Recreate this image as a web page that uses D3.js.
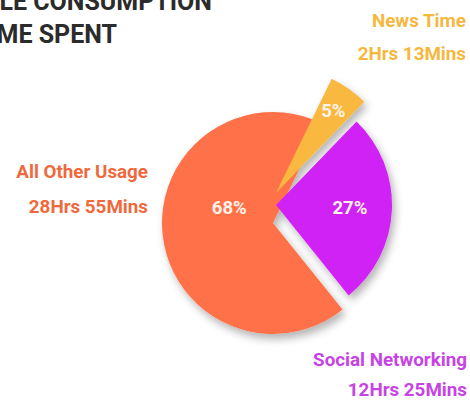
<!DOCTYPE html>
<html>
<head>
<meta charset="utf-8">
<script src="https://cdn.jsdelivr.net/npm/d3@7/dist/d3.min.js"></script>
<style>
  html, body { margin: 0; padding: 0; background: #fff; }
  svg { display: block; font-family: Roboto, "Noto Sans", sans-serif; }
</style>
</head>
<body>
<svg id="chart" width="470" height="401"></svg>
<script>
// Share of mobile time, by activity
const categories = ["News Time", "Social Networking", "All Other Usage"];
const shares = [5, 27, 68];
const durations = ["2Hrs 13Mins", "12Hrs 25Mins", "28Hrs 55Mins"];
const titleLines = ["MOBILE CONSUMPTION", "TIME SPENT"];

// Look of each slice: colour, pull-out offset, radius and label tweaks
const sliceStyle = {
  "News Time":         { fill: "#F9B83F", text: "#F5B73E", dx: 3,  dy: -30, r: 127, labelR: 100, labelDy: 0 },
  "Social Networking": { fill: "#D022F4", text: "#C743E6", dx: 3,  dy: -18, r: 116, labelR: 74,  labelDy: 0 },
  "All Other Usage":   { fill: "#FF7249", text: "#F0693D", dx: 0,  dy: 0,   r: 111, labelR: 44,  labelDy: -20 }
};

const svg = d3.select("#chart");
const cx = 273, cy = 223;
const deg = Math.PI / 180;

// Soft drop shadow under the slices
const defs = svg.append("defs");
const f = defs.append("filter").attr("id", "shadow")
  .attr("x", "-30%").attr("y", "-30%").attr("width", "160%").attr("height", "160%");
f.append("feGaussianBlur").attr("in", "SourceAlpha").attr("stdDeviation", 4).attr("result", "b");
f.append("feOffset").attr("in", "b").attr("dx", 3).attr("dy", 5).attr("result", "o");
f.append("feComponentTransfer").attr("in", "o").attr("result", "s")
  .append("feFuncA").attr("type", "linear").attr("slope", 0.3);
const m = f.append("feMerge");
m.append("feMergeNode").attr("in", "s");
m.append("feMergeNode").attr("in", "SourceGraphic");

// Title (runs off the left edge)
svg.append("text")
  .attr("x", 212).attr("y", 10)
  .attr("text-anchor", "end")
  .attr("font-size", 25).attr("font-weight", 700).attr("fill", "#2b2b2b")
  .text(titleLines[0]);
svg.append("text")
  .attr("x", 117).attr("y", 43)
  .attr("text-anchor", "end")
  .attr("font-size", 25).attr("font-weight", 700).attr("fill", "#2b2b2b")
  .text(titleLines[1]);

const data = categories.map((c, i) => ({ category: c, value: shares[i], duration: durations[i] }));

const pie = d3.pie()
  .sort(null)
  .value(d => d.value)
  .startAngle(26 * deg)
  .endAngle(386 * deg);

const arcs = pie(data);

// Orange slice goes underneath, then the pulled-out ones
const drawOrder = ["All Other Usage", "News Time", "Social Networking"];
const ordered = drawOrder.map(c => arcs.find(a => a.data.category === c));

const slices = svg.append("g").attr("filter", "url(#shadow)");
ordered.forEach(a => {
  const s = sliceStyle[a.data.category];
  const arc = d3.arc().innerRadius(0).outerRadius(s.r);
  slices.append("path")
    .attr("transform", `translate(${cx + s.dx},${cy + s.dy})`)
    .attr("d", arc(a))
    .attr("fill", s.fill);
});

// Percentage labels inside the slices
const total = d3.sum(shares);
ordered.forEach(a => {
  const s = sliceStyle[a.data.category];
  const la = d3.arc().innerRadius(s.labelR).outerRadius(s.labelR);
  const [lx, ly] = la.centroid(a);
  svg.append("text")
    .attr("x", cx + s.dx + lx)
    .attr("y", cy + s.dy + ly + s.labelDy)
    .attr("text-anchor", "middle")
    .attr("dominant-baseline", "central")
    .attr("font-size", 18.5).attr("font-weight", 700)
    .attr("fill", "#FFF2E8")
    .text(Math.round(a.data.value / total * 100) + "%");
});

// Category captions with durations
const captions = [
  { category: "News Time",         x: 466, y1: 27,  y2: 60 },
  { category: "All Other Usage",   x: 148, y1: 178, y2: 213 },
  { category: "Social Networking", x: 467, y1: 366, y2: 396 }
];
captions.forEach(c => {
  const d = data.find(v => v.category === c.category);
  const col = sliceStyle[c.category].text;
  svg.append("text").attr("x", c.x).attr("y", c.y1)
    .attr("text-anchor", "end").attr("font-size", 18.8).attr("font-weight", 700)
    .attr("fill", col).text(d.category);
  svg.append("text").attr("x", c.x).attr("y", c.y2)
    .attr("text-anchor", "end").attr("font-size", 18.8).attr("font-weight", 700)
    .attr("fill", col).text(d.duration);
});
</script>
</body>
</html>
